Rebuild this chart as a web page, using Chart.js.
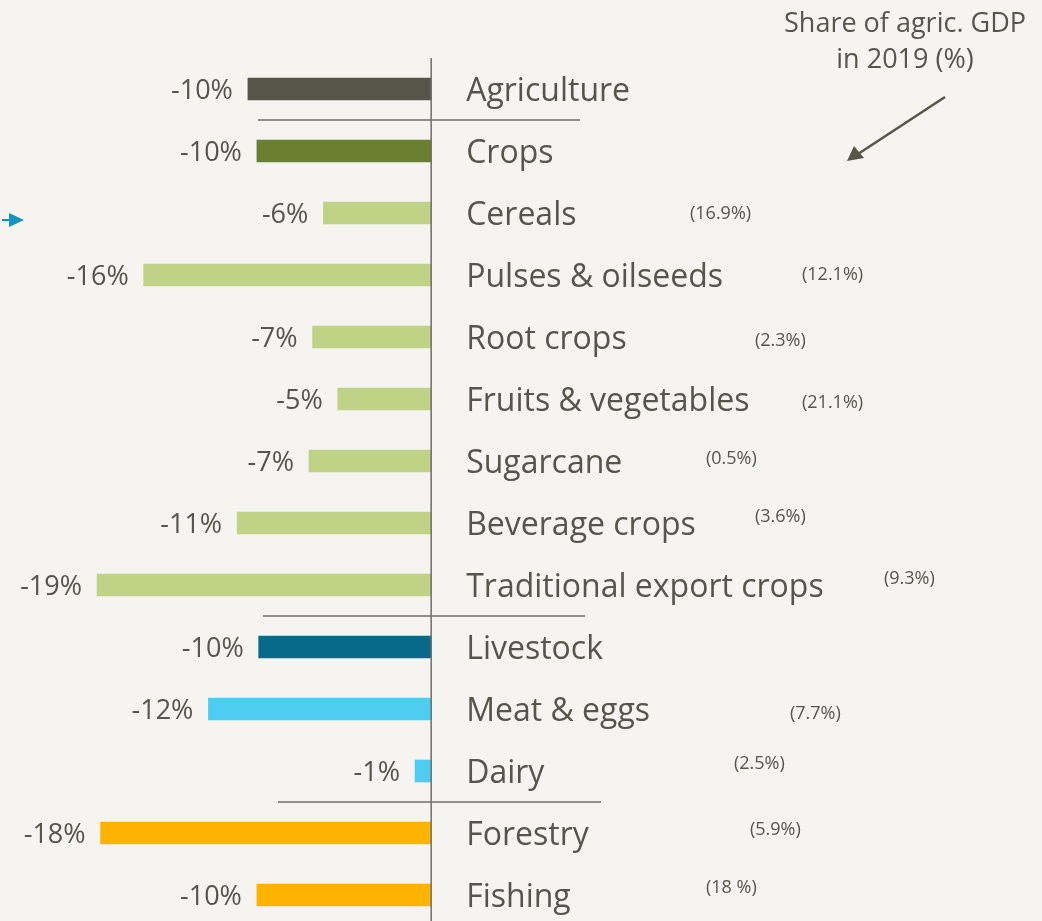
<!DOCTYPE html>
<html>
<head>
<meta charset="utf-8">
<script src="https://cdn.jsdelivr.net/npm/chart.js@4"></script>
<style>
  html, body { margin: 0; padding: 0; background: #f5f4f0; overflow: hidden; }
  #wrap { width: 1042px; height: 960px; }
</style>
</head>
<body>
<div id="wrap"><canvas id="chart" width="1042" height="960"></canvas></div>
<script>
// data
const categories = ["Agriculture", "Crops", "Cereals", "Pulses & oilseeds", "Root crops",
  "Fruits & vegetables", "Sugarcane", "Beverage crops", "Traditional export crops",
  "Livestock", "Meat & eggs", "Dairy", "Forestry", "Fishing"];
const change = [-10.2, -9.7, -6.0, -16.0, -6.6, -5.2, -6.8, -10.8, -18.6, -9.6, -12.4, -0.9, -18.4, -9.7];
const shares = ["", "", "(16.9%)", "(12.1%)", "(2.3%)", "(21.1%)", "(0.5%)", "(3.6%)", "(9.3%)",
  "", "(7.7%)", "(2.5%)", "(5.9%)", "(18 %)"];

// layout for the share annotations (left x, vertical nudge)
const shareX = [0, 0, 690, 802, 755, 802, 706, 755, 884, 0, 790, 734, 750, 706];
const shareDy = [0, 0, 1, 0, 4, 4, -2, -6, -6, 0, 5, -7, -3, -7];

const colors = ["#55554a", "#6a7f2f", "#bfd286", "#bfd286", "#bfd286", "#bfd286", "#bfd286",
  "#bfd286", "#bfd286", "#086a8a", "#4dcdf2", "#4dcdf2", "#fdb300", "#fdb300"];

const textColor = "#55554d";
const lineColor = "#6e6e68";
const FONT = "'Open Sans'";

const extras = {
  id: "extras",
  afterDatasetsDraw(chart) {
    const ctx = chart.ctx;
    const x = chart.scales.x;
    const y = chart.scales.y;
    const zero = x.getPixelForValue(0);
    ctx.save();

    // vertical axis line
    ctx.strokeStyle = lineColor;
    ctx.lineWidth = 1.5;
    ctx.beginPath();
    ctx.moveTo(zero, chart.chartArea.top);
    ctx.lineTo(zero, chart.chartArea.bottom);
    ctx.stroke();

    // separators between groups
    const seps = [[0.5, 258, 580], [8.5, 263, 585], [11.5, 278, 601]];
    seps.forEach(([idx, x1, x2]) => {
      const yy = (y.getPixelForValue(Math.floor(idx)) + y.getPixelForValue(Math.ceil(idx))) / 2;
      ctx.beginPath();
      ctx.moveTo(x1, yy);
      ctx.lineTo(x2, yy);
      ctx.stroke();
    });

    ctx.fillStyle = textColor;
    ctx.textBaseline = "middle";
    categories.forEach((c, i) => {
      const yy = y.getPixelForValue(i);
      // category name
      ctx.font = "32px " + FONT;
      ctx.textAlign = "left";
      ctx.fillText(c, zero + 35, yy + 3);
      // value label
      const end = x.getPixelForValue(change[i]);
      ctx.font = "27px " + FONT;
      ctx.textAlign = "right";
      ctx.fillText(Math.round(change[i]) + "%", end - 15, yy + 2);
      // share
      if (shares[i]) {
        ctx.font = "18px " + FONT;
        ctx.textAlign = "left";
        ctx.fillText(shares[i], shareX[i], yy + shareDy[i]);
      }
    });

    // title annotation
    ctx.font = "27px " + FONT;
    ctx.textAlign = "center";
    ctx.fillText("Share of agric. GDP", 905, 24);
    ctx.fillText("in 2019 (%)", 905, 60);

    // arrow
    ctx.strokeStyle = "#55554a";
    ctx.lineWidth = 2.5;
    ctx.beginPath();
    ctx.moveTo(945, 97);
    ctx.lineTo(858, 154);
    ctx.stroke();
    ctx.fillStyle = "#55554a";
    ctx.beginPath();
    ctx.moveTo(847, 161);
    ctx.lineTo(854, 146);
    ctx.lineTo(864, 158);
    ctx.closePath();
    ctx.fill();

    // small blue marker at the left
    ctx.strokeStyle = "#0f95c0";
    ctx.lineWidth = 2;
    ctx.beginPath();
    ctx.moveTo(2, 220);
    ctx.lineTo(12, 220);
    ctx.stroke();
    ctx.fillStyle = "#0f95c0";
    ctx.beginPath();
    ctx.moveTo(9, 213);
    ctx.lineTo(24, 220);
    ctx.lineTo(9, 227);
    ctx.closePath();
    ctx.fill();

    ctx.restore();
  }
};

new Chart(document.getElementById("chart"), {
  type: "bar",
  data: {
    labels: categories,
    datasets: [{
      data: change,
      backgroundColor: colors,
      barThickness: 22,
      borderWidth: 0
    }]
  },
  options: {
    indexAxis: "y",
    responsive: false,
    animation: false,
    layout: { padding: { top: 58, bottom: 34, left: 0, right: 0 } },
    plugins: { legend: { display: false }, tooltip: { enabled: false } },
    scales: {
      x: { display: false, min: -24, max: 34 },
      y: { display: false, grid: { display: false } }
    }
  },
  plugins: [extras]
});
</script>
</body>
</html>
